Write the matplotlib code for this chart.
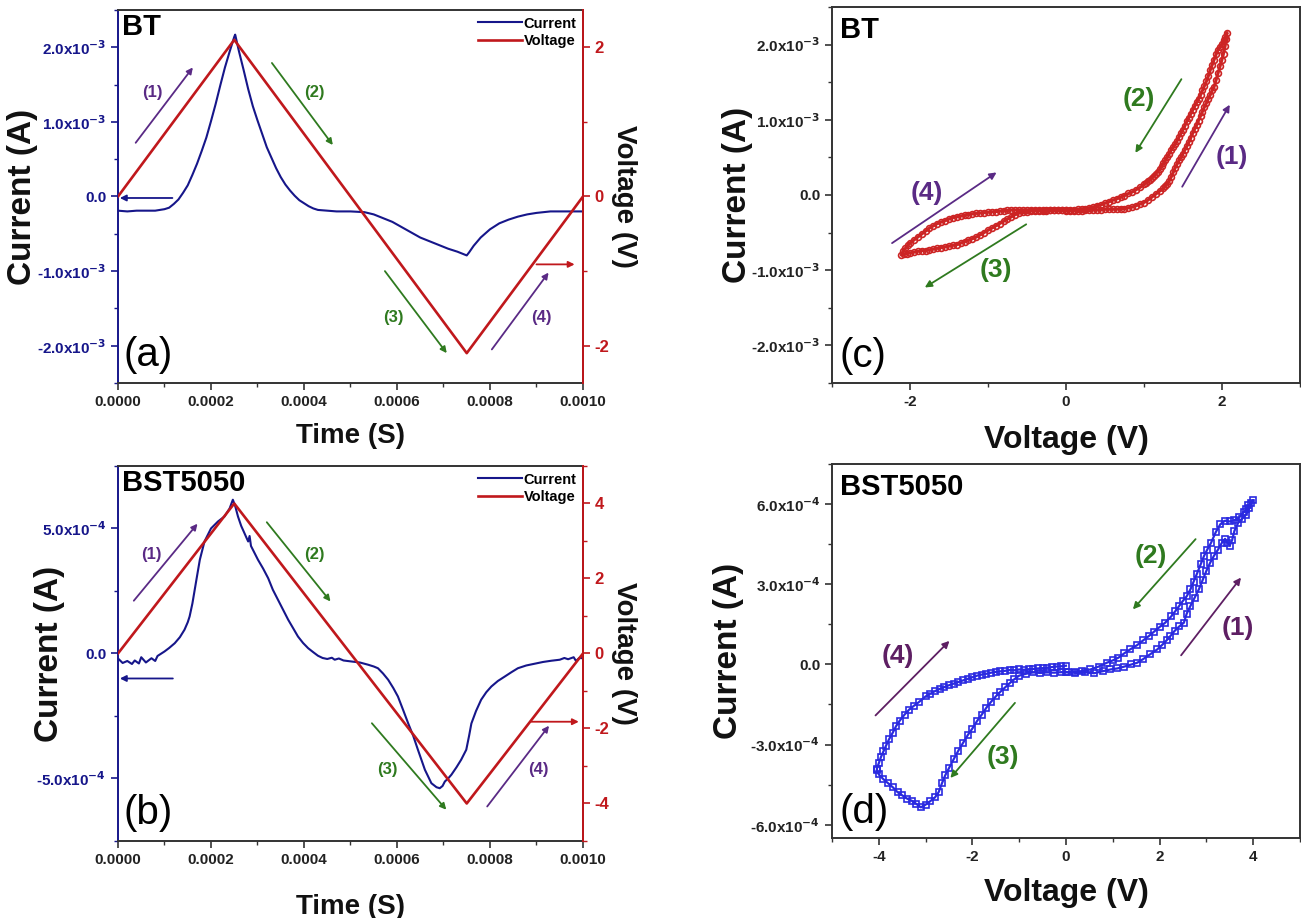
import numpy as np
import matplotlib
matplotlib.use('Agg')
import matplotlib.pyplot as plt
from matplotlib.ticker import AutoMinorLocator

# ---------------- DATA ----------------
# (a) BT time series: time in 1e-4 s, current in 1e-3 A
bt_time_e4 = [0.0, 0.2, 0.4, 0.6, 0.8, 1.0, 1.1, 1.2, 1.3, 1.4, 1.5, 1.6, 1.7, 1.8, 1.9, 2.0,
              2.1, 2.2, 2.3, 2.4, 2.5, 2.52, 2.6, 2.7, 2.8, 2.9, 3.0, 3.1, 3.2, 3.3, 3.4, 3.5,
              3.6, 3.7, 3.8, 3.9, 4.0, 4.1, 4.2, 4.3, 4.5, 4.7, 5.0, 5.3, 5.5, 5.7, 5.9, 6.1,
              6.3, 6.5, 6.7, 6.9, 7.1, 7.3, 7.5, 7.55, 7.65, 7.8, 8.0, 8.2, 8.4, 8.6, 8.8,
              9.0, 9.3, 9.6, 10.0]
bt_current_mA = [-0.19, -0.20, -0.19, -0.19, -0.19, -0.17, -0.15, -0.10, -0.04, 0.05, 0.15,
                 0.29, 0.44, 0.61, 0.79, 1.01, 1.24, 1.49, 1.73, 1.94, 2.14, 2.17, 1.95, 1.70,
                 1.44, 1.21, 1.02, 0.84, 0.66, 0.52, 0.38, 0.26, 0.16, 0.08, 0.01, -0.05, -0.09,
                 -0.13, -0.16, -0.18, -0.19, -0.20, -0.20, -0.21, -0.24, -0.29, -0.34, -0.41,
                 -0.48, -0.55, -0.60, -0.65, -0.70, -0.74, -0.79, -0.75, -0.66, -0.55, -0.44,
                 -0.36, -0.31, -0.27, -0.24, -0.22, -0.20, -0.20, -0.20]
bt_vtime_e4 = [0.0, 2.5, 7.5, 10.0]
bt_voltage = [0.0, 2.1, -2.1, 0.0]

# (b) BST5050 time series: time in 1e-4 s, current in 1e-4 A
bst_time_e4 = [0.0, 0.1, 0.2, 0.3, 0.36, 0.45, 0.5, 0.6, 0.72, 0.8, 0.85, 1.0, 1.1, 1.22, 1.33,
               1.43, 1.5, 1.54, 1.6, 1.65, 1.7, 1.76, 1.86, 2.0, 2.15, 2.29, 2.4, 2.47, 2.52,
               2.58, 2.65, 2.72, 2.77, 2.8, 2.83, 2.86, 3.01, 3.12, 3.23, 3.33, 3.44, 3.55,
               3.66, 3.77, 3.87, 3.98, 4.09, 4.2, 4.3, 4.4, 4.5, 4.6, 4.66, 4.75, 4.85, 5.02,
               5.2, 5.38, 5.5, 5.59, 5.7, 5.81, 5.92, 6.02, 6.13, 6.24, 6.35, 6.45, 6.6, 6.74,
               6.85, 6.92, 6.98, 7.03, 7.1, 7.17, 7.28, 7.38, 7.49, 7.55, 7.6, 7.7, 7.81, 7.92,
               8.03, 8.17, 8.32, 8.46, 8.6, 8.78, 8.96, 9.14, 9.32, 9.5, 9.6, 9.68, 9.8, 9.85,
               9.92, 10.0]
bst_current_e4 = [-0.2, -0.38, -0.3, -0.42, -0.28, -0.4, -0.15, -0.36, -0.19, -0.3, -0.1, 0.08,
                  0.22, 0.41, 0.65, 0.95, 1.25, 1.48, 2.0, 2.55, 3.1, 3.75, 4.48, 5.0, 5.28,
                  5.48, 5.8, 6.15, 5.9, 5.48, 5.1, 4.81, 4.6, 4.48, 4.7, 4.3, 3.75, 3.4, 3.01,
                  2.55, 2.15, 1.75, 1.35, 1.0, 0.68, 0.42, 0.21, 0.05, -0.09, -0.18, -0.22,
                  -0.17, -0.25, -0.2, -0.28, -0.32, -0.36, -0.45, -0.52, -0.59, -0.8, -1.05,
                  -1.38, -1.72, -2.25, -2.79, -3.3, -3.85, -4.65, -5.19, -5.35, -5.39, -5.3,
                  -5.12, -5.0, -4.85, -4.55, -4.25, -3.85, -3.3, -2.8, -2.3, -1.85, -1.55, -1.32,
                  -1.1, -0.92, -0.75, -0.59, -0.48, -0.41, -0.34, -0.29, -0.25, -0.18, -0.23,
                  -0.15, -0.3, -0.18, -0.19]
bst_vtime_e4 = [0.0, 2.5, 7.5, 10.0]
bst_voltage = [0.0, 4.0, -4.0, 0.0]

# (c) BT I-V loop: voltage in V, current in 1e-3 A  (branches 1 -> 2 -> 3 -> 4)
bt_iv_v1 = [0.00, 0.05, 0.10, 0.15, 0.20, 0.25, 0.30, 0.35, 0.40, 0.45, 0.50, 0.55, 0.60, 0.65,
            0.70, 0.75, 0.80, 0.85, 0.90, 0.95, 1.00, 1.05, 1.10, 1.15, 1.20, 1.25, 1.275, 1.30,
            1.325, 1.35, 1.375, 1.40, 1.425, 1.45, 1.475, 1.50, 1.525, 1.55, 1.575, 1.60, 1.625,
            1.65, 1.675, 1.70, 1.725, 1.75, 1.775, 1.80, 1.825, 1.85, 1.875, 1.90, 1.925, 1.95,
            1.975, 2.00, 2.02, 2.04, 2.055, 2.065]
bt_iv_i1 = [-0.21, -0.21, -0.21, -0.21, -0.21, -0.20, -0.20, -0.20, -0.20, -0.20, -0.19, -0.19,
            -0.19, -0.19, -0.18, -0.18, -0.17, -0.16, -0.14, -0.12, -0.10, -0.07, -0.03, 0.01,
            0.05, 0.09, 0.12, 0.15, 0.19, 0.24, 0.30, 0.36, 0.41, 0.46, 0.50, 0.55, 0.60, 0.65,
            0.70, 0.76, 0.82, 0.88, 0.93, 0.99, 1.05, 1.11, 1.17, 1.22, 1.28, 1.33, 1.39, 1.44,
            1.53, 1.62, 1.71, 1.80, 1.88, 1.98, 2.08, 2.16]
bt_iv_v2 = [2.045, 2.025, 2.00, 1.975, 1.95, 1.925, 1.90, 1.875, 1.85, 1.825, 1.80, 1.775, 1.75,
            1.725, 1.70, 1.675, 1.65, 1.625, 1.60, 1.575, 1.55, 1.525, 1.50, 1.475, 1.45, 1.425,
            1.40, 1.375, 1.35, 1.325, 1.30, 1.275, 1.25, 1.225, 1.20, 1.175, 1.15, 1.125, 1.10,
            1.075, 1.05, 1.025, 1.00, 0.95, 0.90, 0.85, 0.80, 0.75, 0.70, 0.65, 0.60, 0.55, 0.50,
            0.45, 0.40, 0.35, 0.30, 0.25, 0.20, 0.15, 0.10, 0.05, 0.00]
bt_iv_i2 = [2.10, 2.06, 2.01, 1.97, 1.93, 1.87, 1.80, 1.73, 1.66, 1.58, 1.51, 1.45, 1.39, 1.33,
            1.28, 1.23, 1.18, 1.13, 1.08, 1.03, 0.98, 0.92, 0.87, 0.82, 0.77, 0.72, 0.68, 0.64,
            0.60, 0.55, 0.51, 0.46, 0.42, 0.38, 0.34, 0.31, 0.28, 0.25, 0.23, 0.20, 0.18, 0.16,
            0.14, 0.10, 0.07, 0.04, 0.02, -0.01, -0.03, -0.05, -0.07, -0.09, -0.11, -0.13, -0.14,
            -0.16, -0.17, -0.18, -0.19, -0.19, -0.20, -0.20, -0.20]
bt_iv_v3 = [-0.05, -0.10, -0.15, -0.20, -0.25, -0.30, -0.35, -0.40, -0.45, -0.50, -0.55, -0.60,
            -0.65, -0.70, -0.75, -0.80, -0.85, -0.90, -0.95, -1.00, -1.05, -1.10, -1.15, -1.20,
            -1.25, -1.30, -1.35, -1.40, -1.45, -1.50, -1.55, -1.60, -1.65, -1.70, -1.75, -1.80,
            -1.85, -1.90, -1.95, -2.00, -2.04, -2.08, -2.11]
bt_iv_i3 = [-0.20, -0.20, -0.20, -0.20, -0.21, -0.21, -0.21, -0.21, -0.21, -0.22, -0.23, -0.24,
            -0.26, -0.29, -0.32, -0.35, -0.38, -0.41, -0.44, -0.47, -0.50, -0.53, -0.56, -0.58,
            -0.60, -0.62, -0.64, -0.66, -0.67, -0.68, -0.69, -0.70, -0.71, -0.72, -0.73, -0.74,
            -0.74, -0.75, -0.76, -0.77, -0.78, -0.79, -0.80]
bt_iv_v4 = [-2.09, -2.06, -2.03, -2.00, -1.95, -1.90, -1.85, -1.80, -1.75, -1.70, -1.65, -1.60,
            -1.55, -1.50, -1.45, -1.40, -1.35, -1.30, -1.25, -1.20, -1.15, -1.10, -1.05, -1.00,
            -0.95, -0.90, -0.85, -0.80, -0.75, -0.70, -0.65, -0.60, -0.55, -0.50, -0.45, -0.40,
            -0.35, -0.30, -0.25, -0.20, -0.15, -0.10, -0.05, 0.00]
bt_iv_i4 = [-0.75, -0.71, -0.67, -0.64, -0.60, -0.56, -0.52, -0.48, -0.44, -0.41, -0.38, -0.36,
            -0.34, -0.32, -0.30, -0.29, -0.28, -0.27, -0.26, -0.25, -0.245, -0.24, -0.235, -0.23,
            -0.225, -0.22, -0.215, -0.21, -0.205, -0.20, -0.20, -0.20, -0.20, -0.20, -0.20, -0.20,
            -0.20, -0.20, -0.20, -0.20, -0.20, -0.20, -0.20, -0.20]

# (d) BST5050 I-V loop: voltage in V, current in 1e-4 A
bst_iv_v1 = [0.0, 0.2, 0.4, 0.6, 0.8, 0.95, 1.1, 1.25, 1.4, 1.52, 1.65, 1.8, 1.95, 2.05, 2.15,
             2.23, 2.32, 2.42, 2.52, 2.58, 2.66, 2.75, 2.84, 2.92, 3.0, 3.08, 3.16, 3.25, 3.33,
             3.4, 3.45, 3.5, 3.55, 3.6, 3.68, 3.76, 3.84, 3.92, 4.0]
bst_iv_i1 = [-0.28, -0.32, -0.30, -0.33, -0.25, -0.19, -0.15, -0.08, 0.00, 0.06, 0.20, 0.38,
             0.56, 0.72, 0.90, 1.06, 1.25, 1.42, 1.56, 1.90, 2.19, 2.50, 2.81, 3.15, 3.50, 3.80,
             4.06, 4.30, 4.55, 4.70, 4.55, 4.45, 4.65, 5.00, 5.30, 5.45, 5.60, 5.85, 6.15]
bst_iv_v2 = [3.95, 3.9, 3.85, 3.8, 3.7, 3.6, 3.5, 3.4, 3.3, 3.2, 3.1, 3.02, 2.95, 2.88, 2.8, 2.73,
             2.66, 2.58, 2.5, 2.42, 2.34, 2.25, 2.12, 2.0, 1.88, 1.77, 1.65, 1.52, 1.37, 1.25,
             1.12, 1.0, 0.87, 0.7, 0.52, 0.35, 0.2, 0.05, -0.1, -0.25, -0.4, -0.55, -0.7, -0.85]
bst_iv_i2 = [6.05, 5.95, 5.8, 5.7, 5.5, 5.4, 5.35, 5.38, 5.25, 4.95, 4.55, 4.3, 4.06, 3.75, 3.4,
             3.1, 2.81, 2.55, 2.38, 2.19, 2.0, 1.8, 1.56, 1.4, 1.22, 1.06, 0.9, 0.72, 0.56, 0.42,
             0.25, 0.15, 0.06, -0.08, -0.19, -0.25, -0.27, -0.3, -0.29, -0.31, -0.3, -0.32, -0.3,
             -0.35]
bst_iv_v3 = [-1.0, -1.1, -1.2, -1.3, -1.4, -1.5, -1.6, -1.7, -1.8, -1.9, -2.0, -2.1, -2.2, -2.3,
             -2.4, -2.5, -2.58, -2.65, -2.72, -2.8, -2.9, -3.0, -3.1, -3.2, -3.3, -3.4, -3.5,
             -3.6, -3.7, -3.8, -3.9, -4.0, -4.04]
bst_iv_i3 = [-0.42, -0.55, -0.7, -0.86, -1.02, -1.2, -1.4, -1.62, -1.88, -2.12, -2.4, -2.65,
             -2.94, -3.23, -3.55, -3.88, -4.15, -4.45, -4.78, -4.98, -5.12, -5.25, -5.35, -5.22,
             -5.1, -5.02, -4.9, -4.78, -4.6, -4.45, -4.3, -4.12, -3.95]
bst_iv_v4 = [-4.04, -4.0, -3.95, -3.9, -3.85, -3.78, -3.7, -3.63, -3.55, -3.45, -3.35, -3.25,
             -3.15, -3.0, -2.9, -2.8, -2.7, -2.6, -2.5, -2.4, -2.3, -2.2, -2.1, -2.0, -1.9, -1.8,
             -1.7, -1.6, -1.5, -1.4, -1.3, -1.2, -1.1, -1.0, -0.9, -0.8, -0.7, -0.6, -0.5, -0.4,
             -0.3, -0.2, -0.1, 0.0]
bst_iv_i4 = [-3.9, -3.7, -3.45, -3.25, -3.06, -2.8, -2.55, -2.31, -2.1, -1.88, -1.69, -1.55,
             -1.42, -1.2, -1.1, -1.0, -0.92, -0.85, -0.78, -0.72, -0.66, -0.6, -0.54, -0.48,
             -0.42, -0.38, -0.35, -0.31, -0.28, -0.26, -0.24, -0.21, -0.22, -0.19, -0.2, -0.18,
             -0.17, -0.15, -0.14, -0.12, -0.1, -0.08, -0.07, -0.05]

# tick values / labels
time_ticks = [0.0, 0.0002, 0.0004, 0.0006, 0.0008, 0.0010]
time_tick_labels = ['0.0000', '0.0002', '0.0004', '0.0006', '0.0008', '0.0010']
bt_cur_ticks = [-2e-3, -1e-3, 0.0, 1e-3, 2e-3]
bt_cur_labels = ['-2.0x10$^{-3}$', '-1.0x10$^{-3}$', '0.0', '1.0x10$^{-3}$', '2.0x10$^{-3}$']
bt_volt_ticks = [-2, 0, 2]
bst_cur_ticks = [-5e-4, 0.0, 5e-4]
bst_cur_labels = ['-5.0x10$^{-4}$', '0.0', '5.0x10$^{-4}$']
bst_volt_ticks = [-4, -2, 0, 2, 4]
bt_iv_xticks = [-2, 0, 2]
bst_iv_xticks = [-4, -2, 0, 2, 4]
bst_iv_yticks = [-6e-4, -3e-4, 0.0, 3e-4, 6e-4]
bst_iv_ylabels = ['-6.0x10$^{-4}$', '-3.0x10$^{-4}$', '0.0', '3.0x10$^{-4}$', '6.0x10$^{-4}$']

# ---------------- STYLE ----------------
NARROW = ['Liberation Sans Narrow', 'Liberation Sans', 'DejaVu Sans']
SANS = ['Liberation Sans', 'DejaVu Sans']
plt.rcParams['font.family'] = NARROW
plt.rcParams['font.weight'] = 'bold'
plt.rcParams['mathtext.fontset'] = 'custom'
plt.rcParams['mathtext.rm'] = 'Liberation Sans Narrow:bold'
plt.rcParams['mathtext.it'] = 'Liberation Sans Narrow:bold'
plt.rcParams['mathtext.bf'] = 'Liberation Sans Narrow:bold'

NAVY = '#16168a'
RED = '#c0181c'
PURPLE = '#5a2a85'
GREEN = '#2f7a1f'
DKPURPLE = '#5e1f63'
SPINE = '#333333'
MRED = '#cc2424'
MBLUE = '#2a2ae0'

fig = plt.figure(figsize=(13.01, 9.18), dpi=100)

def arrow(ax, tail, head, color, lw=1.3, ms=9):
    ax.annotate('', xy=head, xytext=tail,
                arrowprops=dict(arrowstyle='-|>', color=color, lw=lw,
                                mutation_scale=ms, shrinkA=0, shrinkB=0))

def style_common(ax):
    ax.tick_params(which='major', direction='out', length=5, width=1.2, labelsize=11)
    ax.tick_params(which='minor', direction='out', length=3, width=1.0)

def time_panel(rect, t, cur, vt, vv, cur_ticks, cur_labels, cur_lim, v_ticks, v_lim,
               name, letter, ylab_x, xlab_y, ann, lab_fs):
    ax = fig.add_axes(rect)
    ax2 = ax.twinx()
    l1, = ax.plot(t, cur, color=NAVY, lw=1.5)
    l2, = ax2.plot(vt, vv, color=RED, lw=1.9)
    ax.set_xlim(0, 0.001)
    ax.set_ylim(*cur_lim)
    ax2.set_ylim(*v_lim)
    ax.set_xticks(time_ticks, time_tick_labels)
    ax.set_yticks(cur_ticks, cur_labels)
    ax2.set_yticks(v_ticks, [str(v) for v in v_ticks])
    ax.xaxis.set_minor_locator(AutoMinorLocator(2))
    ax.yaxis.set_minor_locator(AutoMinorLocator(2))
    ax2.yaxis.set_minor_locator(AutoMinorLocator(2))
    style_common(ax)
    style_common(ax2)
    ax.tick_params(axis='y', which='both', colors=NAVY, labelcolor=NAVY)
    ax.tick_params(axis='x', which='both', colors=SPINE, labelcolor='#222222')
    ax2.tick_params(axis='y', which='both', colors=RED, labelcolor=RED, labelsize=12)
    ax.spines['left'].set_color(NAVY)
    for s in ['top', 'bottom']:
        ax.spines[s].set_color(SPINE)
    ax2.spines['right'].set_color(RED)
    for s in ['left', 'top', 'bottom']:
        ax2.spines[s].set_visible(False)
    for a in (ax, ax2):
        for s in a.spines.values():
            s.set_linewidth(1.4)
    ax.set_ylabel('Current (A)', fontsize=24, fontweight='bold', family=SANS, color='#111111')
    ax.yaxis.set_label_coords(ylab_x, 0.5)
    ax.set_xlabel('Time (S)', fontsize=20, fontweight='bold', family=SANS, color='#111111',
                  va='center')
    ax.xaxis.set_label_coords(0.5, xlab_y)
    ax2.set_ylabel('Voltage (V)', fontsize=20, fontweight='bold', family=SANS,
                   color='#111111', rotation=270, va='center')
    ax2.yaxis.set_label_coords(1.088, 0.5)
    ax.legend([l1, l2], ['Current', 'Voltage'], loc='upper right', frameon=False,
              fontsize=10.5, handlelength=3.0, handletextpad=0.1, borderaxespad=0.25,
              labelspacing=0.25, borderpad=0.2)
    ax.text(0.008, 0.993, name, transform=ax.transAxes, fontsize=21, fontweight='bold',
            family=SANS, va='top', ha='left')
    ax.text(0.012, 0.025, letter, transform=ax.transAxes, fontsize=29, fontweight='normal',
            family=SANS, va='bottom', ha='left')
    for (tail, head, col) in ann['arrows']:
        arrow(ax, tail, head, col)
    for (txt, pos, col) in ann['labels']:
        ax.text(pos[0], pos[1], txt, color=col, fontsize=lab_fs, fontweight='bold',
                ha='center', va='center')
    return ax

# ---------------- (a) ----------------
ann_a = {
    'arrows': [((0.38e-4, 0.72e-3), (1.61e-4, 1.73e-3), PURPLE),
               ((3.31e-4, 1.79e-3), (4.62e-4, 0.69e-3), GREEN),
               ((5.74e-4, -1.0e-3), (7.07e-4, -2.1e-3), GREEN),
               ((8.04e-4, -2.05e-3), (9.26e-4, -1.02e-3), PURPLE),
               ((1.17e-4, -0.02e-3), (0.04e-4, -0.02e-3), NAVY),
               ((9.0e-4, -0.91e-3), (9.82e-4, -0.91e-3), RED)],
    'labels': [('(1)', (0.73e-4, 1.40e-3), PURPLE), ('(2)', (4.22e-4, 1.40e-3), GREEN),
               ('(3)', (5.92e-4, -1.62e-3), GREEN), ('(4)', (9.1e-4, -1.62e-3), PURPLE)],
}
time_panel([0.0907, 0.5828, 0.3574, 0.4063],
           np.array(bt_time_e4) * 1e-4, np.array(bt_current_mA) * 1e-3,
           np.array(bt_vtime_e4) * 1e-4, bt_voltage,
           bt_cur_ticks, bt_cur_labels, (-2.5e-3, 2.5e-3), bt_volt_ticks, (-2.5, 2.5),
           'BT', '(a)', -0.172, -0.142, ann_a, 12)

# ---------------- (b) ----------------
ann_b = {
    'arrows': [((0.34e-4, 2.11e-4), (1.71e-4, 5.19e-4), PURPLE),
               ((3.2e-4, 5.25e-4), (4.57e-4, 2.08e-4), GREEN),
               ((5.46e-4, -2.79e-4), (7.06e-4, -6.25e-4), GREEN),
               ((7.94e-4, -6.12e-4), (9.27e-4, -2.89e-4), PURPLE),
               ((1.18e-4, -1.0e-4), (0.04e-4, -1.0e-4), NAVY),
               ((8.89e-4, -2.73e-4), (9.91e-4, -2.73e-4), RED)],
    'labels': [('(1)', (0.72e-4, 3.95e-4), PURPLE), ('(2)', (4.22e-4, 3.95e-4), GREEN),
               ('(3)', (5.79e-4, -4.65e-4), GREEN), ('(4)', (9.05e-4, -4.65e-4), PURPLE)],
}
time_panel([0.0907, 0.0839, 0.3574, 0.4085],
           np.array(bst_time_e4) * 1e-4, np.array(bst_current_e4) * 1e-4,
           np.array(bst_vtime_e4) * 1e-4, bst_voltage,
           bst_cur_ticks, bst_cur_labels, (-7.5e-4, 7.5e-4), bst_volt_ticks, (-5, 5),
           'BST5050', '(b)', -0.115, -0.176, ann_b, 12)

# ---------------- I-V panels ----------------
def iv_panel(rect, vs, cs, scale, marker, mcolor, ms, line_w, xlim, xticks, ylim, yticks,
             ylabels, name, letter, ylab_x, xlab_y, ann):
    ax = fig.add_axes(rect)
    v = np.concatenate([np.array(a) for a in vs])
    c = np.concatenate([np.array(a) for a in cs]) * scale
    ax.plot(v, c, color=mcolor, lw=line_w, marker=marker, ms=ms, mfc='none', mec=mcolor,
            mew=1.2)
    ax.set_xlim(*xlim)
    ax.set_ylim(*ylim)
    ax.set_xticks(xticks, [str(x) for x in xticks])
    ax.set_yticks(yticks, ylabels)
    ax.xaxis.set_minor_locator(AutoMinorLocator(2))
    ax.yaxis.set_minor_locator(AutoMinorLocator(2))
    style_common(ax)
    ax.tick_params(which='both', colors=SPINE, labelcolor='#222222')
    for s in ax.spines.values():
        s.set_color(SPINE)
        s.set_linewidth(1.4)
    ax.set_ylabel('Current (A)', fontsize=24, fontweight='bold', family=SANS, color='#111111')
    ax.yaxis.set_label_coords(ylab_x, 0.5)
    ax.set_xlabel('Voltage (V)', fontsize=23, fontweight='bold', family=SANS,
                  color='#111111', va='center')
    ax.xaxis.set_label_coords(0.5, xlab_y)
    ax.text(0.017, 0.975, name, transform=ax.transAxes, fontsize=21, fontweight='bold',
            family=SANS, va='top', ha='left')
    ax.text(0.017, 0.02, letter, transform=ax.transAxes, fontsize=29, fontweight='normal',
            family=SANS, va='bottom', ha='left')
    for (tail, head, col) in ann['arrows']:
        arrow(ax, tail, head, col, lw=1.3, ms=10)
    for (txt, pos, col) in ann['labels']:
        ax.text(pos[0], pos[1], txt, color=col, fontsize=19, fontweight='bold',
                family=SANS, ha='center', va='center')
    return ax

ann_c = {
    'arrows': [((1.49, 0.11e-3), (2.10, 1.20e-3), PURPLE),
               ((1.48, 1.54e-3), (0.89, 0.56e-3), GREEN),
               ((-0.51, -0.39e-3), (-1.81, -1.23e-3), GREEN),
               ((-2.23, -0.64e-3), (-0.89, 0.30e-3), PURPLE)],
    'labels': [('(1)', (2.13, 0.51e-3), PURPLE), ('(2)', (0.93, 1.27e-3), GREEN),
               ('(3)', (-0.90, -1.00e-3), GREEN), ('(4)', (-1.79, 0.02e-3), PURPLE)],
}
iv_panel([0.6395, 0.5828, 0.3597, 0.4096],
         [bt_iv_v1, bt_iv_v2, bt_iv_v3, bt_iv_v4], [bt_iv_i1, bt_iv_i2, bt_iv_i3, bt_iv_i4],
         1e-3, 'o', MRED, 4.2, 2.2, (-3, 3), bt_iv_xticks, (-2.5e-3, 2.5e-3),
         bt_cur_ticks, bt_cur_labels, 'BT', '(c)', -0.169, -0.152, ann_c)

ann_d = {
    'arrows': [((2.46, 0.34e-4), (3.74, 3.25e-4), DKPURPLE),
               ((2.77, 4.69e-4), (1.43, 2.06e-4), GREEN),
               ((-1.09, -1.44e-4), (-2.47, -4.25e-4), GREEN),
               ((-4.07, -1.91e-4), (-2.49, 0.88e-4), DKPURPLE)],
    'labels': [('(1)', (3.67, 1.38e-4), DKPURPLE), ('(2)', (1.81, 4.06e-4), GREEN),
               ('(3)', (-1.35, -3.48e-4), GREEN), ('(4)', (-3.60, 0.31e-4), DKPURPLE)],
}
iv_panel([0.6395, 0.0871, 0.3597, 0.4074],
         [bst_iv_v1, bst_iv_v2, bst_iv_v3, bst_iv_v4],
         [bst_iv_i1, bst_iv_i2, bst_iv_i3, bst_iv_i4],
         1e-4, 's', MBLUE, 4.0, 1.6, (-5, 5), bst_iv_xticks, (-6.5e-4, 7.5e-4),
         bst_iv_yticks, bst_iv_ylabels, 'BST5050', '(d)', -0.188, -0.147, ann_d)

fig.savefig('out.png', dpi=100)
